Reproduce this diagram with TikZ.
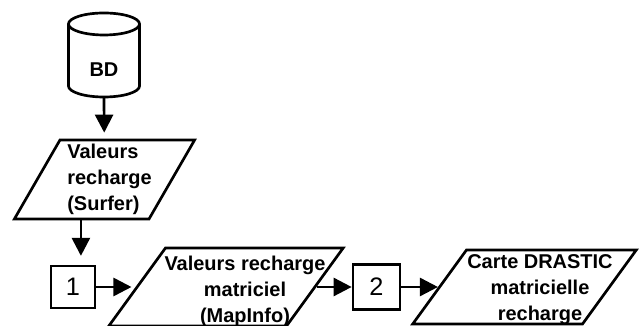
\documentclass[tikz,border=0pt]{standalone}
\usepackage{fontspec}
\setmainfont{Liberation Sans}
\usetikzlibrary{arrows.meta,shapes.geometric}

\begin{document}
\begin{tikzpicture}[x=0.025cm,y=-0.025cm,line width=1.9pt]
% Styles
\tikzstyle{base}=[rectangle,inner sep=0pt,outer sep=0pt]
\tikzstyle{data}=[draw,trapezium,inner sep=0pt]
\tikzstyle{data text}=[font=\bfseries\fontsize{14.2}{18.5}\selectfont,align=center,inner sep=0pt]
\tikzstyle{step box}=[draw,rectangle,inner sep=0pt,font=\fontsize{18}{20}\selectfont]
\tikzstyle{flow}=[-{Triangle[width=0.45cm,length=0.45cm]}]
\useasboundingbox (0,0) rectangle (641,326);
% The database
\node[base,minimum width=1.775cm,minimum height=1.55cm] (bd) at (104,55) {};
\draw (bd.north) ellipse [x radius=0.8875cm,y radius=0.275cm];
\draw (bd.north west) -- (bd.south west)
  arc[start angle=180,end angle=360,x radius=0.8875cm,y radius=0.275cm] -- (bd.north east);
\node[data text] (t0) at (104,70) {BD};
% The graphic
\node[data,trapezium left angle=60,trapezium right angle=120,
  inner xsep=1.1125cm,inner ysep=0.9875cm] (p1) at (104.5,179.5) {};
\node[data text,anchor=west,align=left] (t1) at (66,179) {Valeurs\\recharge\\(Surfer)};
\node[step box,minimum width=1.1cm,minimum height=1.05cm] (s1) at (73,287) {1};
\node[data,trapezium left angle=54,trapezium right angle=126,
  inner xsep=1.5125cm,inner ysep=0.975cm] (p2) at (226,287) {};
\node[data text] (t2) at (245,291) {Valeurs recharge\\matriciel\\(MapInfo)};
\node[step box,minimum width=1.175cm,minimum height=1.125cm] (s2) at (376.5,287) {2};
\node[data,trapezium left angle=54,trapezium right angle=126,
  inner xsep=1.45cm,inner ysep=0.925cm] (p3) at (524.5,287) {};
\node[data text] (t3) at (540,290) {Carte DRASTIC\\matricielle\\recharge};
% draw the arrows
\draw[flow,shorten >=0.15cm] ([yshift=-0.275cm]bd.south) -- (p1);
\draw[flow,shorten >=0.22cm] (p1.bottom side) -- (p1.bottom side |- s1.north);
\draw[flow,shorten >=0.1cm] (s1) -- (p2);
\draw[flow] (p2) -- (s2);
\draw[flow] (s2) -- (p3);
\end{tikzpicture}
\end{document}
